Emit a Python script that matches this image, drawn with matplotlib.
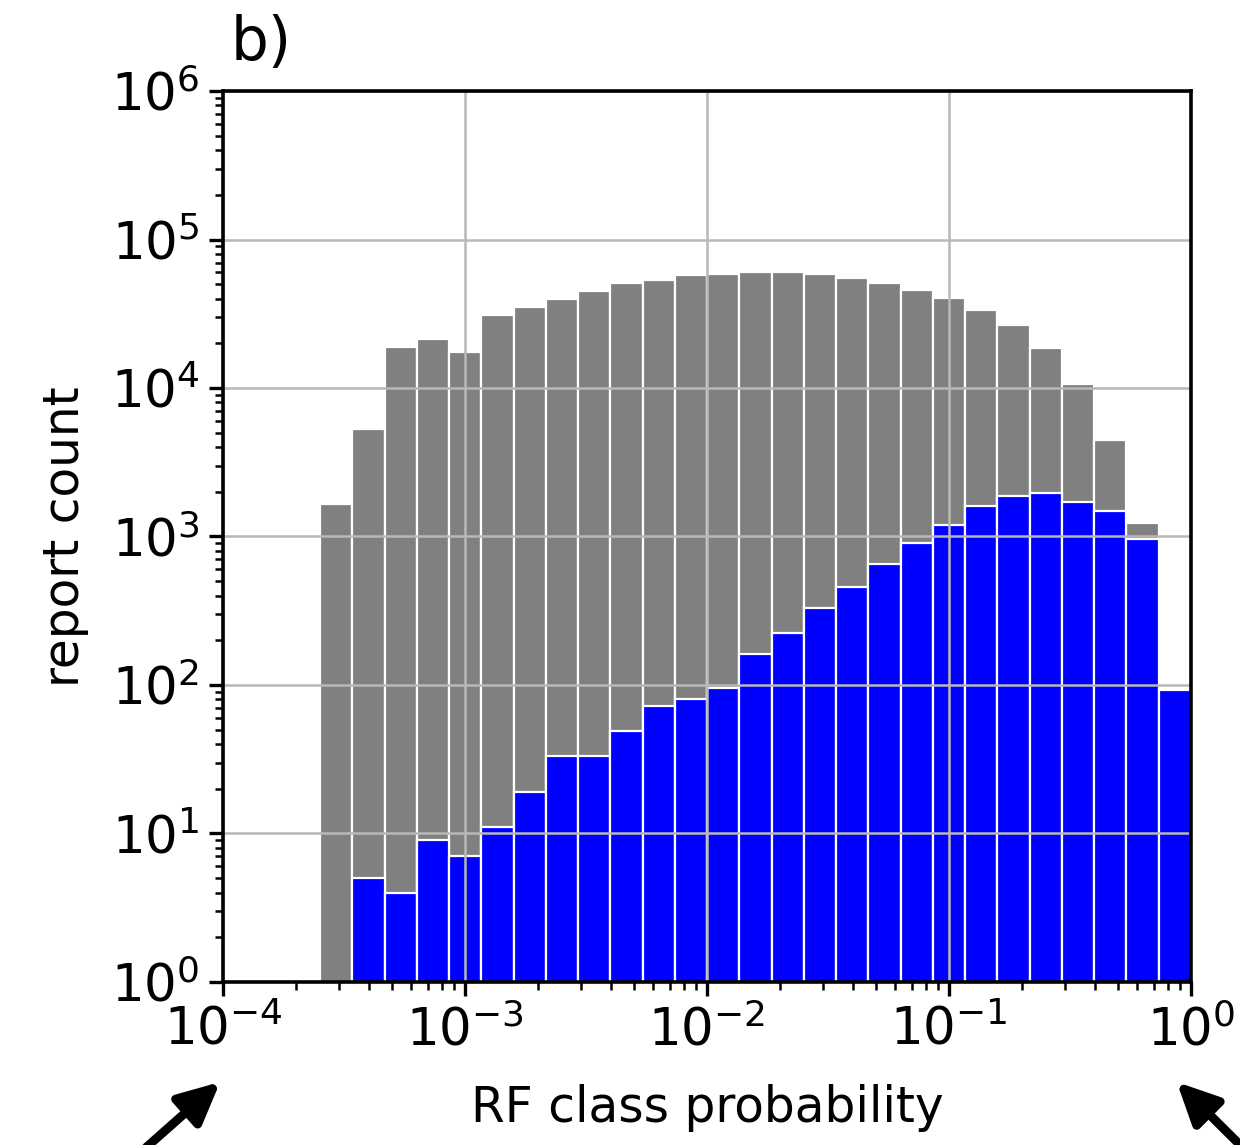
import numpy as np
import matplotlib
matplotlib.use('Agg')
import matplotlib.pyplot as plt
from matplotlib.patches import FancyArrowPatch

# log-spaced bins over [1e-4, 1]
bin_edges = np.logspace(-4, 0, 31)

# all reports (bins 3..29) and subset (bins 4..29)
gray_first_bin = 3
gray_counts = [1655, 5270, 18970, 21400, 17550, 31000, 34950, 39750, 45000,
               50700, 53400, 57700, 58600, 60100, 60100, 58300, 55300, 51200,
               45700, 40200, 33500, 26600, 18500, 10600, 4470, 1240, 92]
blue_first_bin = 4
blue_counts = [5, 4, 9, 7, 11, 19, 33, 33, 49, 72, 81, 96, 161, 224, 332,
               459, 654, 905, 1188, 1603, 1885, 1968, 1710, 1479, 956, 92]

panel_label = 'b)'
xlabel = 'RF class probability'
ylabel = 'report count'

fs = 18.5
fig = plt.figure(figsize=(6.2, 5.725), dpi=200)
ax = fig.add_axes([0.180, 0.1424, 0.7805, 0.7781])

def draw(counts, first, color):
    left = bin_edges[first:first + len(counts)]
    right = bin_edges[first + 1:first + 1 + len(counts)]
    ax.bar(left, counts, width=right - left, align='edge', color=color,
           edgecolor='white', linewidth=0.8, zorder=1)

draw(gray_counts, gray_first_bin, '#808080')
draw(blue_counts, blue_first_bin, '#0000ff')

ax.set_xscale('log')
ax.set_yscale('log')
ax.set_xlim(1e-4, 1e0)
ax.set_ylim(1e0, 1e6)
ax.set_axisbelow(False)
ax.grid(True, which='major', color='#b8b8b8', linewidth=0.9, zorder=3)

ax.tick_params(axis='both', which='major', labelsize=fs, length=5, width=1.2,
               direction='out')
ax.tick_params(axis='both', which='minor', length=3, width=0.9)
for s in ax.spines.values():
    s.set_linewidth(1.3)
    s.set_zorder(4)

ax.set_xlabel(xlabel, fontsize=fs - 1, labelpad=10)
ax.set_ylabel(ylabel, fontsize=fs - 1, labelpad=8)
fig.text(0.186, 0.962, panel_label, fontsize=fs + 3, ha='left', va='center')

# arrows pointing at the axis ends
for tail, tip in [((0.118, -0.002), (0.1775, 0.055)),
                  ((1.002, -0.002), (0.949, 0.055))]:
    fig.add_artist(FancyArrowPatch(tail, tip, transform=fig.transFigure,
                                   arrowstyle='-|>,head_length=0.62,head_width=0.3',
                                   mutation_scale=20, linewidth=3.2,
                                   shrinkA=0, shrinkB=0,
                                   color='black', clip_on=False))

fig.savefig('out.png', dpi=200)
